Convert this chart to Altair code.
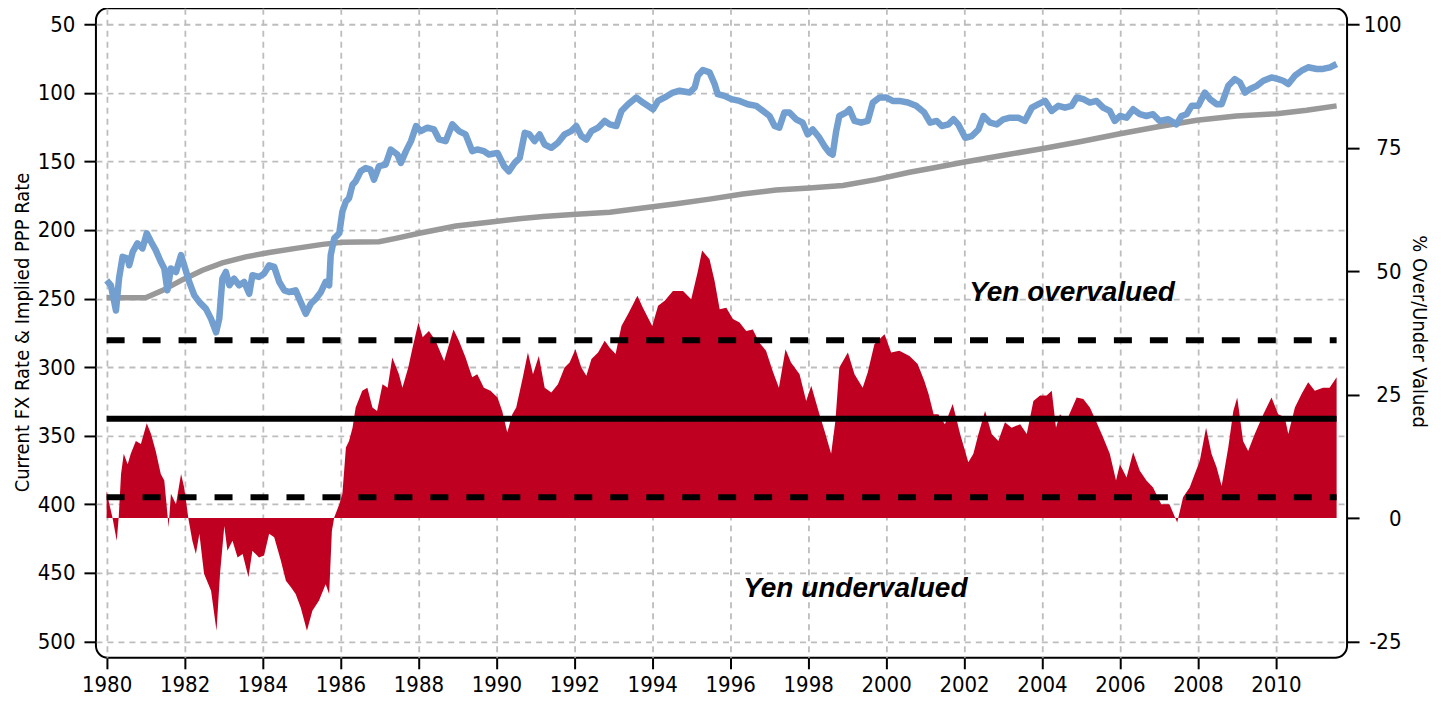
import altair as alt
import pandas as pd

# ---------------- data ----------------
fx_year = [1980.0, 1980.11, 1980.24, 1980.32, 1980.41, 1980.54, 1980.58, 1980.67, 1980.79, 1980.92,
           1981.03, 1981.14, 1981.26, 1981.39, 1981.48, 1981.56, 1981.65, 1981.78, 1981.91, 1981.99,
           1982.12, 1982.25, 1982.38, 1982.55, 1982.68, 1982.81, 1982.89, 1982.97, 1983.06, 1983.15,
           1983.27, 1983.4, 1983.53, 1983.66, 1983.74, 1983.91, 1984.04, 1984.17, 1984.3, 1984.43,
           1984.56, 1984.68, 1984.85, 1984.98, 1985.11, 1985.24, 1985.37, 1985.5, 1985.62, 1985.71,
           1985.75, 1985.84, 1985.97, 1986.05, 1986.14, 1986.22, 1986.31, 1986.39, 1986.52, 1986.65,
           1986.77, 1986.86, 1986.99, 1987.16, 1987.29, 1987.46, 1987.55, 1987.68, 1987.81, 1987.94,
           1988.06, 1988.23, 1988.4, 1988.53, 1988.7, 1988.87, 1989.04, 1989.21, 1989.38, 1989.51,
           1989.68, 1989.81, 1990.03, 1990.2, 1990.32, 1990.47, 1990.6, 1990.73, 1990.85, 1990.98,
           1991.11, 1991.24, 1991.41, 1991.58, 1991.75, 1991.92, 1992.05, 1992.18, 1992.31, 1992.44,
           1992.61, 1992.78, 1992.91, 1993.08, 1993.21, 1993.38, 1993.59, 1993.76, 1994.02, 1994.15,
           1994.32, 1994.53, 1994.7, 1994.96, 1995.09, 1995.17, 1995.3, 1995.47, 1995.6, 1995.68,
           1995.85, 1996.03, 1996.24, 1996.45, 1996.67, 1996.84, 1997.01, 1997.14, 1997.26, 1997.39,
           1997.52, 1997.69, 1997.86, 1997.99, 1998.12, 1998.29, 1998.42, 1998.55, 1998.63, 1998.72,
           1998.8, 1998.97, 1999.06, 1999.19, 1999.36, 1999.53, 1999.66, 1999.83, 2000.0, 2000.17,
           2000.34, 2000.56, 2000.77, 2000.98, 2001.13, 2001.3, 2001.43, 2001.6, 2001.73, 2001.85,
           2002.03, 2002.2, 2002.37, 2002.5, 2002.67, 2002.84, 2003.01, 2003.18, 2003.39, 2003.56,
           2003.74, 2003.91, 2004.08, 2004.25, 2004.42, 2004.59, 2004.76, 2004.89, 2005.06, 2005.23,
           2005.4, 2005.57, 2005.74, 2005.87, 2006.0, 2006.17, 2006.34, 2006.51, 2006.68, 2006.85,
           2007.02, 2007.24, 2007.45, 2007.58, 2007.71, 2007.84, 2008.01, 2008.18, 2008.31, 2008.48,
           2008.61, 2008.78, 2008.95, 2009.08, 2009.21, 2009.33, 2009.51, 2009.68, 2009.89, 2010.06,
           2010.19, 2010.32, 2010.49, 2010.66, 2010.83, 2011.05, 2011.21, 2011.39, 2011.56]
fx_rate = [236.7, 240.3, 258.7, 235.0, 219.6, 220.8, 225.7, 215.9, 209.8, 213.4,
           202.4, 208.6, 214.7, 223.2, 228.1, 244.0, 228.1, 230.6, 218.3, 225.7,
           237.9, 247.7, 252.6, 257.5, 264.8, 274.6, 264.8, 235.5, 230.6, 240.3,
           235.5, 240.3, 237.9, 246.5, 233.0, 234.2, 231.8, 225.7, 226.9, 237.9,
           244.0, 245.2, 244.0, 252.6, 261.1, 253.8, 250.1, 245.2, 237.9, 240.3,
           218.3, 206.1, 202.4, 186.5, 179.2, 176.8, 167.0, 164.5, 157.2, 154.8,
           156.0, 163.3, 153.5, 152.3, 141.3, 145.0, 151.1, 142.5, 135.2, 124.2,
           127.9, 125.4, 126.7, 134.0, 135.2, 123.0, 127.9, 130.3, 142.5, 141.3,
           142.5, 145.0, 143.8, 153.5, 157.2, 151.1, 147.4, 129.1, 130.3, 135.2,
           130.3, 137.7, 140.1, 136.4, 130.3, 127.9, 124.2, 131.5, 134.0, 127.9,
           125.4, 120.5, 123.0, 124.2, 113.2, 108.3, 103.4, 107.1, 112.0, 105.9,
           103.4, 99.8, 98.5, 99.8, 96.1, 87.5, 83.4, 85.1, 93.6, 101.0,
           102.2, 104.6, 105.9, 108.3, 109.5, 113.2, 116.9, 124.2, 125.4, 114.4,
           114.4, 119.3, 121.8, 130.3, 126.7, 132.8, 138.9, 143.8, 145.0, 127.9,
           116.9, 114.4, 112.0, 120.5, 121.8, 120.5, 107.1, 103.4, 103.4, 105.9,
           105.9, 107.1, 109.5, 114.4, 121.8, 120.5, 124.2, 123.0, 119.3, 123.0,
           132.8, 131.5, 126.7, 116.9, 121.8, 123.0, 119.3, 118.1, 118.1, 120.5,
           110.8, 108.3, 105.9, 113.2, 109.5, 110.8, 109.5, 103.4, 104.6, 107.1,
           105.9, 110.8, 113.2, 120.5, 116.9, 118.1, 112.0, 115.6, 116.9, 115.6,
           120.5, 119.3, 123.0, 116.9, 115.6, 109.5, 109.5, 99.8, 104.6, 108.3,
           108.3, 94.9, 90.0, 92.4, 99.8, 97.4, 94.9, 91.2, 88.8, 90.0,
           91.2, 93.6, 87.5, 83.9, 81.4, 82.6, 82.6, 81.4, 79.0]

ppp_year = [1980.0, 1981.0, 1981.44, 1981.95, 1982.46, 1982.97, 1983.57, 1984.17, 1984.85, 1985.54,
            1986.05, 1986.99, 1987.42, 1988.02, 1988.96, 1989.81, 1990.58, 1991.2, 1992.05, 1992.91,
            1993.76, 1994.62, 1995.47, 1996.32, 1997.18, 1998.03, 1998.89, 1999.74, 2000.6, 2001.2,
            2001.98, 2003.01, 2004.03, 2004.97, 2006.0, 2006.94, 2007.97, 2008.99, 2010.02, 2010.79,
            2011.56]
ppp_rate = [249.4, 249.4, 244.0, 236.2, 229.3, 224.0, 219.6, 216.4, 213.4, 210.5,
            209.0, 208.6, 206.1, 202.4, 197.1, 194.4, 191.8, 190.2, 188.5, 187.0,
            184.0, 180.9, 177.5, 173.8, 170.9, 169.4, 167.5, 163.3, 157.9, 154.8,
            150.6, 145.5, 140.6, 135.7, 129.8, 124.9, 120.0, 116.9, 115.2, 112.7,
            109.5]

gap_year = [1980.0, 1980.07, 1980.15, 1980.26, 1980.31, 1980.37, 1980.44, 1980.54, 1980.62, 1980.75,
            1980.88, 1981.03, 1981.14, 1981.26, 1981.39, 1981.48, 1981.56, 1981.59, 1981.65, 1981.78,
            1981.91, 1981.99, 1982.1, 1982.2, 1982.29, 1982.38, 1982.5, 1982.68, 1982.82, 1982.91,
            1983.02, 1983.1, 1983.23, 1983.36, 1983.49, 1983.64, 1983.74, 1983.91, 1984.04, 1984.17,
            1984.3, 1984.47, 1984.6, 1984.73, 1984.85, 1984.98, 1985.14, 1985.28, 1985.45, 1985.62,
            1985.71, 1985.78, 1985.84, 1985.97, 1986.05, 1986.14, 1986.22, 1986.31, 1986.39, 1986.56,
            1986.69, 1986.82, 1986.94, 1987.08, 1987.21, 1987.33, 1987.5, 1987.59, 1987.74, 1987.85,
            1988.0, 1988.11, 1988.27, 1988.44, 1988.66, 1988.9, 1989.04, 1989.21, 1989.38, 1989.51,
            1989.68, 1989.85, 1990.03, 1990.15, 1990.28, 1990.41, 1990.51, 1990.68, 1990.81, 1990.94,
            1991.09, 1991.24, 1991.41, 1991.58, 1991.75, 1991.88, 1992.03, 1992.18, 1992.31, 1992.44,
            1992.61, 1992.78, 1992.91, 1993.06, 1993.21, 1993.38, 1993.62, 1993.76, 1994.0, 1994.15,
            1994.32, 1994.53, 1994.79, 1995.0, 1995.17, 1995.28, 1995.47, 1995.6, 1995.73, 1995.9,
            1996.07, 1996.24, 1996.41, 1996.58, 1996.75, 1996.92, 1997.09, 1997.25, 1997.42, 1997.56,
            1997.78, 1997.95, 1998.08, 1998.29, 1998.42, 1998.59, 1998.7, 1998.8, 1999.02, 1999.19,
            1999.4, 1999.53, 1999.7, 1999.96, 2000.13, 2000.34, 2000.6, 2000.81, 2000.98, 2001.09,
            2001.22, 2001.34, 2001.51, 2001.71, 2001.9, 2002.11, 2002.24, 2002.37, 2002.54, 2002.71,
            2002.88, 2003.05, 2003.22, 2003.44, 2003.61, 2003.78, 2003.95, 2004.12, 2004.25, 2004.36,
            2004.46, 2004.63, 2004.89, 2005.06, 2005.23, 2005.4, 2005.57, 2005.74, 2005.9, 2006.0,
            2006.17, 2006.34, 2006.51, 2006.68, 2006.85, 2007.06, 2007.27, 2007.47, 2007.62, 2007.79,
            2007.92, 2008.05, 2008.21, 2008.35, 2008.48, 2008.61, 2008.78, 2008.91, 2009.01, 2009.16,
            2009.29, 2009.46, 2009.68, 2009.89, 2010.06, 2010.23, 2010.32, 2010.49, 2010.66, 2010.83,
            2011.0, 2011.21, 2011.38, 2011.56]
gap_pct = [5.5, 2.8, 0.1, -4.6, 0.1, 8.9, 13.0, 10.9, 13.0, 15.6,
           15.0, 19.2, 17.0, 13.6, 8.9, 7.6, 0.8, -1.9, 4.9, 2.8,
           8.9, 6.2, -0.2, -4.6, -7.3, -3.2, -11.3, -14.7, -22.8, -11.3,
           -1.6, -6.6, -4.6, -8.0, -7.3, -12.0, -6.6, -8.0, -7.6, -3.2,
           -3.9, -8.6, -12.7, -14.0, -15.4, -18.1, -22.8, -18.8, -16.7, -13.4,
           -15.4, -2.6, 0.1, 2.8, 4.9, 14.3, 15.6, 18.3, 22.4, 25.8,
           26.4, 22.4, 21.7, 27.1, 26.4, 32.5, 29.1, 26.4, 30.5, 34.5,
           39.6, 36.6, 37.9, 35.9, 31.8, 38.2, 35.9, 32.5, 28.5, 29.1,
           26.4, 25.8, 24.4, 21.7, 17.3, 21.0, 22.4, 28.5, 33.5, 29.1,
           32.8, 26.4, 25.4, 27.1, 30.5, 31.5, 34.2, 30.5, 28.8, 32.2,
           33.5, 35.9, 34.5, 33.2, 38.9, 41.3, 45.0, 42.6, 38.9, 43.0,
           44.0, 46.0, 46.0, 44.3, 50.0, 54.2, 52.4, 48.0, 42.3, 42.6,
           40.3, 39.6, 37.9, 38.2, 35.5, 33.9, 29.8, 26.4, 34.2, 31.5,
           29.1, 23.7, 26.8, 21.0, 17.7, 13.0, 19.7, 30.5, 33.5, 29.1,
           26.4, 29.5, 35.2, 37.2, 33.5, 33.9, 32.8, 31.2, 27.8, 25.1,
           21.0, 21.0, 19.0, 23.1, 17.0, 11.3, 13.0, 17.0, 21.7, 17.0,
           15.6, 19.4, 18.3, 19.0, 17.0, 23.7, 24.8, 24.8, 25.8, 18.3,
           21.0, 19.7, 24.4, 24.1, 22.4, 19.4, 16.3, 13.0, 7.6, 10.9,
           8.2, 13.3, 9.6, 7.6, 6.2, 2.8, 2.8, -0.9, 4.2, 6.2,
           8.9, 11.6, 18.3, 13.0, 10.3, 6.5, 14.3, 21.7, 24.4, 15.6,
           13.6, 17.0, 21.0, 24.4, 21.0, 20.4, 17.0, 22.4, 25.1, 27.5,
           25.8, 26.4, 26.4, 28.5]

band_level = [36.0, 20.1, 4.2]
band_kind = ["dashed", "solid", "dashed"]

x_ticks = list(range(1980, 2011, 2))
left_ticks = list(range(50, 501, 50))
right_ticks = [-25, 0, 25, 50, 75, 100]

note_text = ["Yen overvalued", "Yen undervalued"]
note_year = [2004.77, 1999.21]
note_pct = [44.0, -16.0]

# ---------------- tables ----------------
fx_df = pd.DataFrame({"year": fx_year, "rate": fx_rate})
ppp_df = pd.DataFrame({"year": ppp_year, "rate": ppp_rate})
gap_df = pd.DataFrame({"year": gap_year, "pct": gap_pct})
band_df = pd.DataFrame({"year": [fx_year[0]] * 3, "year2": [fx_year[-1]] * 3,
                        "pct": band_level, "kind": band_kind})
note_df = pd.DataFrame({"year": note_year, "pct": note_pct, "note": note_text})

FONT = "DejaVu Sans Condensed, DejaVu Sans, sans-serif"
GRID = dict(grid=True, gridDash=[6, 5], gridColor="#bdbdbd", gridWidth=1.8)

W, H = 1252, 650

x_enc = alt.X("year:Q",
              scale=alt.Scale(domain=[1979.726, 2011.828], nice=False, zero=False),
              axis=alt.Axis(values=x_ticks, format="d", title=None, orient="bottom",
                            tickSize=11, tickWidth=2, tickColor="black", domain=False,
                            labelPadding=6, labelFont=FONT, labelFontSize=22,
                            labelColor="black", labelFlush=False, **GRID))

y_left = alt.Y("rate:Q",
               scale=alt.Scale(domain=[38.344, 511.87], reverse=True, nice=False, zero=False),
               axis=alt.Axis(values=left_ticks, orient="left", title="Current FX Rate & Implied PPP Rate",
                             tickSize=12, tickWidth=2, tickColor="black", domain=False,
                             labelPadding=9, labelFont=FONT, labelFontSize=22, labelColor="black",
                             titleFont=FONT, titleFontSize=20, titleFontWeight="normal",
                             titleColor="black", titleAngle=270, titleBaseline="alphabetic",
                             titleAlign="center", titleX=-67, titleY=324, **GRID))

y_right = alt.Y("pct:Q",
                scale=alt.Scale(domain=[-28.30, 103.238], nice=False, zero=False),
                axis=alt.Axis(values=right_ticks, orient="right", title="% Over/Under Valued",
                              tickSize=12, tickWidth=2, tickColor="black", domain=False, grid=False,
                              labelPadding=42, labelAlign="right", labelFont=FONT, labelFontSize=22,
                              labelColor="black", labelExpr="toString(datum.value)",
                              titleFont=FONT, titleFontSize=20, titleFontWeight="normal",
                              titleColor="black", titleAngle=90, titleBaseline="alphabetic",
                              titleAlign="center", titleX=65, titleY=323))

area = alt.Chart(gap_df).mark_area(color="#c00020", interpolate="linear").encode(
    x=x_enc, y=y_right, y2=alt.datum(0))

rules = alt.Chart(band_df).mark_rule(color="black", strokeWidth=6).encode(
    x=x_enc, x2="year2:Q", y=y_right,
    strokeDash=alt.StrokeDash("kind:N", scale=alt.Scale(domain=["solid", "dashed"],
                                                        range=[[1, 0], [18, 18]]), legend=None))

notes = alt.Chart(note_df).mark_text(font="Liberation Sans, sans-serif", fontSize=28,
                                     fontWeight="bold", fontStyle="italic", color="black",
                                     align="center", baseline="alphabetic").encode(
    x=x_enc, y=y_right, text="note:N")

ppp = alt.Chart(ppp_df).mark_line(color="#999999", strokeWidth=5.5).encode(x=x_enc, y=y_left)
fx = alt.Chart(fx_df).mark_line(color="#729fcf", strokeWidth=6.5, strokeJoin="round").encode(
    x=x_enc, y=y_left)

right_group = alt.layer(area, rules, notes)
left_group = alt.layer(ppp, fx)

chart = alt.layer(right_group, left_group).resolve_scale(y="independent").properties(
    width=W, height=H,
    background="white",
    autosize=alt.AutoSizeParams(type="none"),
    padding={"left": 88, "top": 0, "right": 86, "bottom": 40},
).configure_view(stroke="black", strokeWidth=2, cornerRadius=12)

chart.save("out.html", embed_options={"renderer": "svg", "actions": False})
